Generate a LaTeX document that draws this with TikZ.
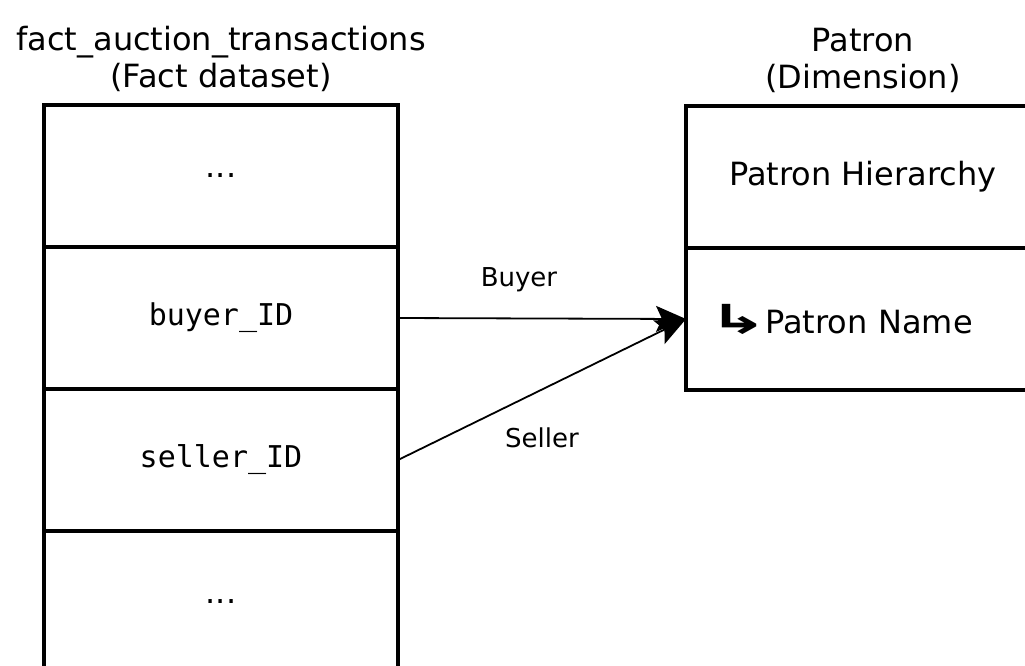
\documentclass[tikz,border=0pt]{standalone}
\usepackage{fontspec}
\setmainfont{DejaVu Sans}
\setmonofont{DejaVu Sans Mono}
\usetikzlibrary{positioning,arrows.meta}

\begin{document}
\begin{tikzpicture}[x=1pt,y=-1pt,
  cell/.style={draw,line width=3.8pt,minimum width=354pt,minimum height=142pt,inner sep=0pt,outer sep=0pt,font=\fontsize{32}{38}\selectfont},
  ttl/.style={align=center,inner sep=0pt,font=\fontsize{32}{37}\selectfont},
  lbl/.style={font=\fontsize{26}{30}\selectfont},
  link/.style={-{Stealth[length=30pt,width=26pt,inset=6pt]},line width=1.8pt}]
\useasboundingbox (0,0) rectangle (1025,665);
% fact dataset
\node[cell] (topdots) at (221,176) {...};
\node[cell,below=0pt of topdots] (buyer) {\fontsize{30}{36}\ttfamily buyer\_ID};
\node[cell,below=0pt of buyer] (seller) {\fontsize{30}{36}\ttfamily seller\_ID};
\node[cell,below=0pt of seller] (botdots) {...};
\node[ttl,above=13pt of topdots] (facttitle) {fact\_auction\_transactions\\(Fact dataset)};
% dimension
\node[cell] (hier) at (863,177) {Patron Hierarchy};
\node[cell,below=0pt of hier,text width=310pt,align=left] (pname) {\scalebox{1.8}[1]{\fontsize{40}{38}\bfseries ↳}\hspace{-3pt}Patron Name};
\node[ttl,above=13pt of hier] (dimtitle) {Patron\\(Dimension)};
% links
\draw[link] (buyer.east) -- node[lbl,pos=.42,above=22pt]{Buyer} (pname.west);
\draw[link] (seller.east) -- node[lbl,pos=.5,below=34pt]{Seller} (pname.west);
\end{tikzpicture}
\end{document}
